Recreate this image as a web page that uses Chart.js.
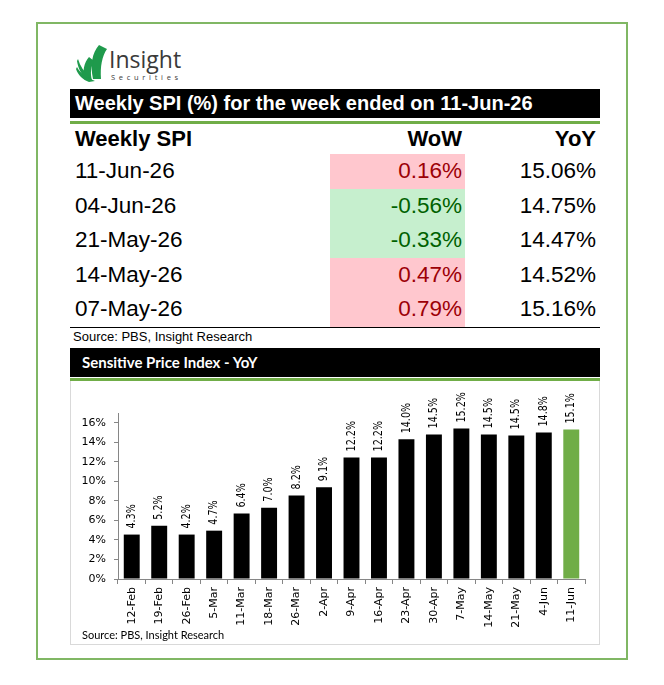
<!DOCTYPE html>
<html>
<head>
<meta charset="utf-8">
<script src="https://cdn.jsdelivr.net/npm/chart.js@4"></script>
<style>
body { margin: 0; width: 664px; height: 685px; background: #fff; position: relative; overflow: hidden; font-family: "Liberation Sans", Arial, sans-serif; }
.abs { position: absolute; }
.frame { left: 36px; top: 22px; width: 592px; height: 638px; border: 2px solid #80b764; box-sizing: border-box; }
.bar { background: #000; color: #fff; font-weight: bold; white-space: nowrap; }
.gline { background: #70ad47; height: 3px; }
.row { left: 70px; width: 530px; height: 34.6px; font-size: 22.5px; line-height: 34.6px; }
.cell { position: absolute; top: 0; height: 100%; }
.chartbox { left: 70px; top: 381px; width: 530px; height: 264px; border: 1px solid #d9d9d9; border-top: none; box-sizing: border-box; }
</style>
</head>
<body>
<div class="abs" style="left:3px;top:-4px;font-size:12px;">`</div>
<div class="abs frame"></div>

<svg class="abs" style="left:0;top:0" width="664" height="120">
  <path d="M93,79 C90,65 92,53 99,45 L107,49 C102,56 100,67 101,79 Z" fill="#1f9a4c"/>
  <path d="M85,80 C82,71 84,63 89,57 L94,61 C91,67 90,73 92,80 Z" fill="#1f9a4c"/>
  <path d="M77,67 C80,73 86,77 95,81 L89,82 C83,80 78,75 76,69 Z" fill="#1f9a4c"/>
  <path d="M78,59 C80,66 84,72 90,77 L86,78 C81,74 78,68 77,61 Z" fill="#1f9a4c"/>
  <text x="109" y="68" font-family="Open Sans" font-size="23" fill="#3a3a3a">Insight</text>
  <text x="111" y="80" font-family="Open Sans" font-size="7.5" letter-spacing="3.7" fill="#3a3a3a">Securities</text>
</svg>

<div class="abs bar" style="left:70px;top:89px;width:530px;height:29px;line-height:29px;font-size:20px;padding-left:5px;box-sizing:border-box;">Weekly SPI (%) for the week ended on 11-Jun-26</div>
<div class="abs gline" style="left:70px;top:121px;width:530px;"></div>

<div id="table"></div>

<div class="abs" style="left:70px;top:327px;width:530px;height:1px;background:#000;"></div>
<div class="abs" style="left:73px;top:329px;font-size:13px;">Source: PBS, Insight Research</div>

<div class="abs bar" style="left:70px;top:348px;width:530px;height:29px;line-height:29px;font-size:15px;font-family:Lato, sans-serif;padding-left:12px;box-sizing:border-box;">Sensitive Price Index - YoY</div>
<div class="abs gline" style="left:70px;top:378px;width:530px;"></div>
<div class="abs chartbox"></div>

<div class="abs" style="left:71px;top:385px;width:525px;height:245px;">
  <canvas id="spiChart"></canvas>
</div>
<div class="abs" style="left:82px;top:628px;font-size:11px;font-family:Lato, sans-serif;">Source: PBS, Insight Research</div>

<script>
// tabla semanal
const tableDates = ['11-Jun-26', '04-Jun-26', '21-May-26', '14-May-26', '07-May-26'];
const tableWow = [0.16, -0.56, -0.33, 0.47, 0.79];
const tableYoy = [15.06, 14.75, 14.47, 14.52, 15.16];

// grafico YoY
const weeks = ['12-Feb', '19-Feb', '26-Feb', '5-Mar', '11-Mar', '18-Mar', '26-Mar', '2-Apr', '9-Apr',
    '16-Apr', '23-Apr', '30-Apr', '7-May', '14-May', '21-May', '4-Jun', '11-Jun'];
const barHeights = [4.55, 5.45, 4.55, 4.95, 6.7, 7.3, 8.55, 9.4, 12.45, 12.45, 14.3, 14.8, 15.4, 14.8, 14.7, 15.0, 15.3];
const barLabels = [4.3, 5.2, 4.2, 4.7, 6.4, 7.0, 8.2, 9.1, 12.2, 12.2, 14.0, 14.5, 15.2, 14.5, 14.5, 14.8, 15.1];
const yTicks = [0, 2, 4, 6, 8, 10, 12, 14, 16];

function buildTable() {
    var html = '';
    html += '<div class="abs row" style="top:124px;height:30px;line-height:30px;font-weight:bold;font-size:22px;">' +
        '<div class="cell" style="left:5px;">Weekly SPI</div>' +
        '<div class="cell" style="right:138px;">WoW</div>' +
        '<div class="cell" style="right:4px;">YoY</div></div>';
    tableDates.forEach(function (d, i) {
        var up = tableWow[i] >= 0;
        var top = 154 + i * 34.6;
        html += '<div class="abs row" style="top:' + top + 'px;">' +
            '<div class="cell" style="left:5px;">' + d + '</div>' +
            '<div class="cell" style="left:260px;width:135px;background:' + (up ? '#ffc7ce' : '#c6efce') + ';"></div>' +
            '<div class="cell" style="right:138px;color:' + (up ? '#9c0006' : '#006100') + ';">' + tableWow[i].toFixed(2) + '%</div>' +
            '<div class="cell" style="right:4px;">' + tableYoy[i].toFixed(2) + '%</div></div>';
    });
    document.getElementById('table').innerHTML = html;
}

// etiquetas verticales sobre las barras
const barLabelPlugin = {
    id: 'barLabels',
    afterDatasetsDraw(chart) {
        const ctx = chart.ctx;
        const meta = chart.getDatasetMeta(0);
        meta.data.forEach(function (bar, i) {
            ctx.save();
            ctx.translate(bar.x, bar.y - 6);
            ctx.rotate(-Math.PI / 2);
            ctx.scale(0.8, 1);
            ctx.font = '12px "DejaVu Sans"';
            ctx.fillStyle = '#000';
            ctx.textAlign = 'left';
            ctx.textBaseline = 'middle';
            ctx.fillText(barLabels[i].toFixed(1) + '%', 0, 0);
            ctx.restore();
        });
    }
};

document.addEventListener('DOMContentLoaded', function () {
    buildTable();
    var ctx = document.getElementById('spiChart').getContext('2d');
    new Chart(ctx, {
        type: 'bar',
        data: {
            labels: weeks,
            datasets: [{
                label: 'SPI YoY',
                data: barHeights,
                backgroundColor: weeks.map((w, i) => i === weeks.length - 1 ? '#70ad47' : '#000000'),
                barPercentage: 0.58,
                categoryPercentage: 1.0
            }]
        },
        options: {
            responsive: true,
            maintainAspectRatio: false,
            animation: false,
            layout: { padding: { top: 28, right: 11, left: 0, bottom: 0 } },
            plugins: { legend: { display: false }, tooltip: { enabled: false } },
            scales: {
                x: {
                    grid: { display: true, drawOnChartArea: false, offset: true, tickLength: 5, color: '#868686' },
                    border: { color: '#868686' },
                    ticks: {
                        autoSkip: false, minRotation: 90, maxRotation: 90, padding: 3, color: '#000',
                        font: { family: 'DejaVu Sans', size: 11 }
                    },
                    afterFit: function (s) { s.height = 51; }
                },
                y: {
                    min: yTicks[0],
                    max: 17,
                    grid: { drawOnChartArea: false, tickLength: 4, color: '#868686' },
                    border: { color: '#868686' },
                    afterBuildTicks: function (s) { s.ticks = yTicks.map(v => ({ value: v })); },
                    ticks: {
                        padding: 8, color: '#000',
                        font: { family: 'DejaVu Sans', size: 11 },
                        callback: v => v + '%'
                    },
                    afterFit: function (s) { s.width = 47; }
                }
            }
        },
        plugins: [barLabelPlugin]
    });
});
</script>
</body>
</html>
